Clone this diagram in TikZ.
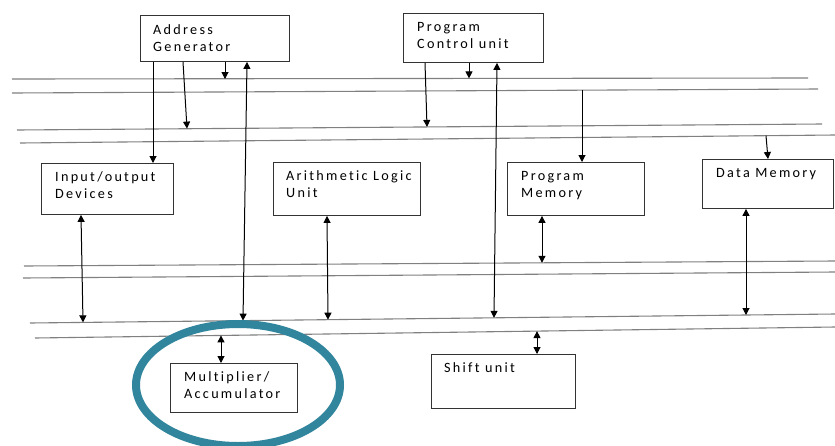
\documentclass[tikz,border=0pt]{standalone}
\usepackage{fontspec}
\setmainfont{Carlito}[Ligatures=NoCommon]
\usetikzlibrary{arrows.meta}
\definecolor{ringteal}{HTML}{31859C}
\begin{document}
\begin{tikzpicture}[x=1pt,y=-1pt,
  unitbox/.style={draw=black!80, line width=0.9pt, anchor=north west, inner sep=0pt},
  unitlabel/.style={anchor=base west, align=left, inner sep=0pt,
    font=\fontsize{14.2}{17}\selectfont\addfontfeature{LetterSpace=16}},
  bus/.style={draw=black!50, line width=1.1pt},
  link/.style={draw=black, line width=1pt, -{Triangle[length=7pt,width=7pt]}},
  duplex/.style={draw=black, line width=1pt,
    {Triangle[length=7pt,width=7pt]}-{Triangle[length=7pt,width=7pt]}},
]
\useasboundingbox (0,0) rectangle (835,445);
\fill[white] (0,0) rectangle (835,445);

% ---- buses (pairs of lines) ----
\coordinate (aW) at (12,79);  \coordinate (aE) at (808,78);
\coordinate (bW) at (12,93);  \coordinate (bE) at (818,89);
\coordinate (cW) at (17,130); \coordinate (cE) at (822,124);
\coordinate (dW) at (20,143); \coordinate (dE) at (835,135);
\coordinate (eW) at (24,266); \coordinate (eE) at (835,261);
\coordinate (fW) at (23,278); \coordinate (fE) at (835,272);
\coordinate (gW) at (30,323); \coordinate (gE) at (835,314);
\coordinate (hW) at (35,338); \coordinate (hE) at (835,327);
\foreach \l in {a,b,c,d,e,f,g,h} \draw[bus] (\l W) -- (\l E);

% ---- functional units ----
\node[unitbox, minimum width=149pt, minimum height=46pt] (ag)  at (140,15)  {};
\node[unitbox, minimum width=140pt, minimum height=49pt] (pcu) at (403,13)  {};
\node[unitbox, minimum width=132pt, minimum height=51pt] (io)  at (41,163)  {};
\node[unitbox, minimum width=147pt, minimum height=53pt] (alu) at (273,162) {};
\node[unitbox, minimum width=137pt, minimum height=53pt] (pm)  at (507,162) {};
\node[unitbox, minimum width=131pt, minimum height=49pt] (dm)  at (702,159) {};
\node[unitbox, minimum width=127pt, minimum height=49pt] (mac) at (170,363) {};
\node[unitbox, minimum width=144pt, minimum height=54pt] (su)  at (431,354) {};

% labels: the base anchor sits on the last line
\node[unitlabel] (agt)  at ([xshift=13pt,yshift=-36pt]ag.north west)  {Address\\Generator};
\node[unitlabel] (pcut) at ([xshift=14pt,yshift=-35pt]pcu.north west) {Program\\Control unit};
\node[unitlabel] (iot)  at ([xshift=14pt,yshift=-35pt]io.north west)  {Input/output\\Devices};
\node[unitlabel] (alut) at ([xshift=13pt,yshift=-35pt]alu.north west) {Arithmetic Logic\\Unit};
\node[unitlabel] (pmt)  at ([xshift=14pt,yshift=-35pt]pm.north west)  {Program\\Memory};
\node[unitlabel] (dmt)  at ([xshift=14pt,yshift=-18pt]dm.north west)  {Data Memory};
\node[unitlabel] (mact) at ([xshift=14pt,yshift=-35pt]mac.north west) {Multiplier/\\Accumulator};
\node[unitlabel] (sut)  at ([xshift=13pt,yshift=-18pt]su.north west)  {Shift unit};

% ---- taps on the buses ----
\coordinate (agC)  at (187,128.6);
\coordinate (agA)  at (225,79);
\coordinate (agG)  at (243,320.6);
\coordinate (pcuC) at (427,126.9);
\coordinate (pcuA) at (469,78.4);
\coordinate (pcuG) at (494,317.8);
\coordinate (pmB)  at (582,90.2);
\coordinate (dmD)  at (766,135.7);
\coordinate (ioG)  at (83,322.4);
\coordinate (aluG) at (328,319.7);
\coordinate (pmE)  at (542,262.8);
\coordinate (dmG)  at (746,315);
\coordinate (macH) at (221,335.4);
\coordinate (suH)  at (537,331.1);

% ---- connectors ----
\draw[link] ([xshift=13pt]ag.south west) -- ([xshift=112pt]io.north west);
\draw[link] ([xshift=43pt]ag.south west) -- (agC);
\draw[link] ([xshift=85pt]ag.south west) -- (agA);
\draw[duplex] ([xshift=107pt]ag.south west) -- (agG);

\draw[link] ([xshift=22pt]pcu.south west) -- (pcuC);
\draw[link] ([xshift=66pt]pcu.south west) -- (pcuA);
\draw[duplex] ([xshift=94pt]pcu.south west) -- (pcuG);

\draw[link] (pmB) -- ([xshift=75pt]pm.north west);
\draw[link] (dmD) -- ([xshift=66pt]dm.north west);

\draw[duplex] ([xshift=40pt]io.south west) -- (ioG);
\draw[duplex] ([xshift=54pt]alu.south west) -- (aluG);
\draw[duplex] ([xshift=35pt]pm.south west) -- (pmE);
\draw[duplex] ([xshift=44pt]dm.south west) -- (dmG);
\draw[duplex] (macH) -- ([xshift=51pt]mac.north west);
\draw[duplex] (suH) -- ([xshift=106pt]su.north west);

% ---- highlight ring round the multiplier/accumulator ----
\draw[ringteal, line width=8pt] (238,385) ellipse [x radius=102pt, y radius=61pt];
\end{tikzpicture}
\end{document}
